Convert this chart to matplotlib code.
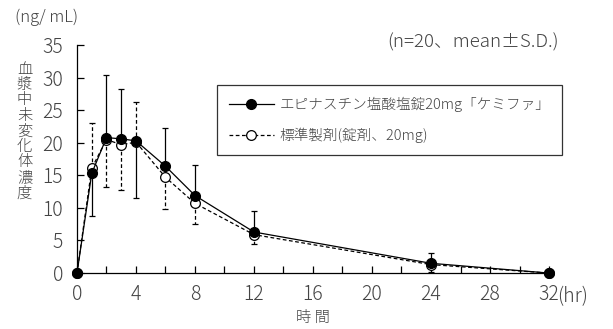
import numpy as np
import matplotlib
matplotlib.use("Agg")
import matplotlib.pyplot as plt
from matplotlib.lines import Line2D

plt.rcParams['font.family'] = ['Noto Sans CJK JP', 'DejaVu Sans']
plt.rcParams['font.weight'] = 'light'

# ---------------------------------------------------------
# Data
# ---------------------------------------------------------
hours = [0, 1, 2, 3, 4, 6, 8, 12, 24, 32]

test_mean = [0, 15.3, 20.8, 20.6, 20.3, 16.4, 11.9, 6.3, 1.5, 0]
test_sd_up = [0, 0, 9.6, 7.7, 0, 5.9, 4.7, 3.3, 1.6, 0]
test_sd_low = [0, 6.5, 0, 0, 8.8, 0, 0, 0, 0, 0]

ref_mean = [0, 16.1, 20.5, 19.7, 20.1, 14.7, 10.7, 5.9, 1.3, 0]
ref_sd_up = [0, 7.0, 0, 0, 6.1, 0, 0, 0, 0, 0]
ref_sd_low = [0, 0, 7.3, 7.0, 0, 4.8, 3.2, 1.5, 1.2, 0]

x_ticks = [0, 4, 8, 12, 16, 20, 24, 28, 32]
x_ticklabels = ["0", "4", "8", "12", "16", "20", "24", "28", "32"]
y_ticks = [0, 5, 10, 15, 20, 25, 30, 35]

label_test = "エピナスチン塩酸塩錠20mg「ケミファ」"
label_ref = "標準製剤(錠剤、20mg)"

# ---------------------------------------------------------
# Figure
# ---------------------------------------------------------
fig = plt.figure(figsize=(6.13, 3.29), dpi=100)
ax = fig.add_axes([0.1256, 0.170, 0.770, 0.693])

txt_col = "#444444"
dash = (0, (3, 2))
tick_fs = 14

# error bars (one sided, as in the original)
def one_sided(ax, x, y, low, up, ls):
    x = np.asarray(x); y = np.asarray(y)
    low = np.asarray(low); up = np.asarray(up)
    for err, sign in ((up, 1), (low, -1)):
        m = err > 0
        if not m.any():
            continue
        tips = y[m] + sign * err[m]
        ax.vlines(x[m], y[m], tips, colors="k", linestyles=ls, lw=0.9, zorder=2)
        ax.plot(x[m], tips, ls="none", marker="_", ms=5, mew=0.9, color="k", zorder=2)

one_sided(ax, hours, ref_mean, ref_sd_low, ref_sd_up, dash)
one_sided(ax, hours, test_mean, test_sd_low, test_sd_up, "solid")

ax.plot(hours, ref_mean, color="k", ls=dash, lw=0.9, marker="o", ms=7,
        mfc="white", mec="k", mew=0.9, clip_on=False, zorder=3)
ax.plot(hours, test_mean, color="k", ls="-", lw=0.9, marker="o", ms=7,
        mfc="k", mec="k", clip_on=False, zorder=4)

# ---------------------------------------------------------
# Axes formatting
# ---------------------------------------------------------
ax.set_xlim(0, 32)
ax.set_ylim(0, 35)
for s in ["top", "right"]:
    ax.spines[s].set_visible(False)
for s in ["left", "bottom"]:
    ax.spines[s].set_linewidth(0.9)

ax.set_xticks(x_ticks)
ax.set_xticklabels(x_ticklabels)
ax.set_xticks(np.arange(0, 33, 2), minor=True)
ax.set_yticks(y_ticks)
ax.tick_params(axis="both", which="both", direction="in", length=5, width=0.9,
               labelsize=tick_fs, labelcolor=txt_col)
ax.tick_params(axis="x", pad=8)
ax.tick_params(axis="y", pad=10)

fig.text(0.909, 0.098, "(hr)", fontsize=tick_fs, color=txt_col,
         ha="left", va="center")

fig.text(0.510, 0.033, "時 間", fontsize=11, color=txt_col, ha="center", va="center")
fig.text(0.024, 0.948, "(ng/ mL)", fontsize=12, color=txt_col, ha="left", va="center")
fig.text(0.040, 0.600, "\n".join("血漿中未変化体濃度"), fontsize=11,
         color=txt_col, ha="center", va="center", linespacing=1.13)
fig.text(0.911, 0.872, "(n=20、mean±S.D.)", fontsize=13.5, color=txt_col,
         ha="right", va="center")

handles = [
    Line2D([], [], color="k", ls="-", lw=0.9, marker="o", ms=7, mfc="k"),
    Line2D([], [], color="k", ls=dash, lw=0.9, marker="o", ms=7, mfc="white", mew=0.9),
]
leg = ax.legend(handles, [label_test, label_ref], loc="upper left",
                bbox_to_anchor=(0.297, 0.825), fontsize=10.5, frameon=True,
                fancybox=False, edgecolor="k", handlelength=3.1,
                handletextpad=0.4, labelspacing=1.1, borderpad=0.8,
                borderaxespad=0, labelcolor=txt_col)
leg.get_frame().set_linewidth(0.9)

fig.savefig("out.png", dpi=100)
